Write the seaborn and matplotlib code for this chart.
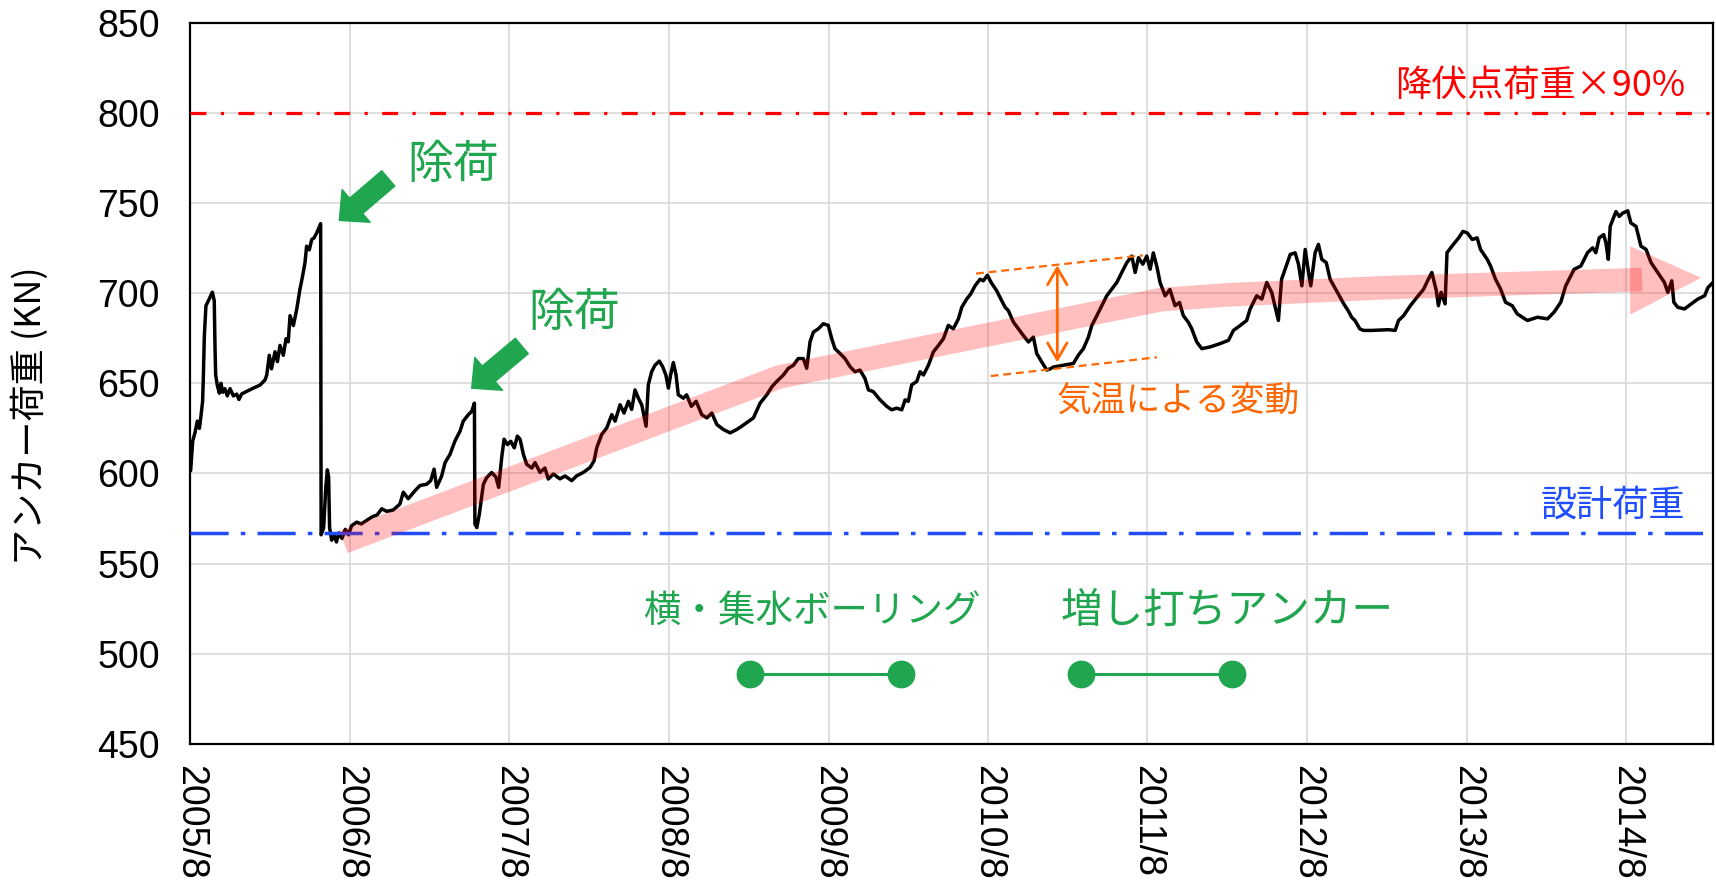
import pandas as pd
import matplotlib
matplotlib.use('Agg')
import matplotlib.pyplot as plt
import matplotlib.dates as mdates
from matplotlib.patches import Polygon
import seaborn as sns

# measured anchor load, x given as years after 2005/8
years_after_start = [
    0.001, 0.014, 0.028, 0.043, 0.056, 0.066, 0.076, 0.080, 0.087, 0.097,
    0.111, 0.127, 0.137, 0.149, 0.154, 0.158, 0.168, 0.181, 0.191, 0.202,
    0.216, 0.231, 0.248, 0.269, 0.290, 0.304, 0.320, 0.352, 0.394, 0.436,
    0.467, 0.478, 0.494, 0.508, 0.530, 0.545, 0.561, 0.582, 0.599, 0.613,
    0.624, 0.645, 0.666, 0.686, 0.703, 0.718, 0.728, 0.745, 0.760, 0.775,
    0.791, 0.804, 0.816, 0.819, 0.835, 0.848, 0.858, 0.866, 0.872, 0.885,
    0.900, 0.915, 0.930, 0.950, 0.970, 0.990, 1.010, 1.042, 1.070, 1.105,
    1.140, 1.170, 1.199, 1.230, 1.270, 1.313, 1.334, 1.365, 1.408, 1.439,
    1.480, 1.506, 1.527, 1.543, 1.574, 1.596, 1.627, 1.658, 1.690, 1.710,
    1.742, 1.763, 1.780, 1.783, 1.795, 1.810, 1.836, 1.857, 1.888, 1.915,
    1.932, 1.951, 1.966, 1.987, 2.008, 2.030, 2.049, 2.066, 2.087, 2.108,
    2.140, 2.160, 2.191, 2.222, 2.243, 2.275, 2.316, 2.348, 2.390, 2.420,
    2.463, 2.505, 2.530, 2.547, 2.578, 2.610, 2.641, 2.662, 2.693, 2.718,
    2.745, 2.766, 2.787, 2.808, 2.829, 2.856, 2.870, 2.891, 2.912, 2.939,
    2.960, 2.980, 2.996, 3.010, 3.027, 3.044, 3.058, 3.090, 3.110, 3.140,
    3.170, 3.205, 3.237, 3.268, 3.300, 3.340, 3.383, 3.425, 3.456, 3.500,
    3.529, 3.571, 3.613, 3.645, 3.675, 3.717, 3.748, 3.780, 3.810, 3.842,
    3.863, 3.884, 3.905, 3.936, 3.967, 3.998, 4.020, 4.040, 4.072, 4.103,
    4.135, 4.166, 4.197, 4.228, 4.250, 4.280, 4.323, 4.365, 4.396, 4.427,
    4.459, 4.480, 4.500, 4.521, 4.553, 4.574, 4.595, 4.626, 4.657, 4.689,
    4.720, 4.751, 4.782, 4.814, 4.835, 4.866, 4.891, 4.918, 4.950, 4.970,
    4.996, 5.020, 5.054, 5.075, 5.107, 5.127, 5.159, 5.190, 5.221, 5.253,
    5.284, 5.305, 5.336, 5.368, 5.389, 5.410, 5.472, 5.535, 5.566, 5.598,
    5.629, 5.650, 5.682, 5.713, 5.744, 5.775, 5.807, 5.838, 5.870, 5.901,
    5.922, 5.943, 5.970, 5.995, 6.016, 6.036, 6.060, 6.078, 6.110, 6.140,
    6.172, 6.200, 6.224, 6.255, 6.277, 6.308, 6.340, 6.390, 6.455, 6.507,
    6.538, 6.580, 6.621, 6.643, 6.684, 6.716, 6.747, 6.778, 6.820, 6.840,
    6.862, 6.894, 6.925, 6.946, 6.967, 6.988, 7.009, 7.023, 7.050, 7.071,
    7.092, 7.120, 7.144, 7.186, 7.230, 7.259, 7.280, 7.300, 7.330, 7.353,
    7.405, 7.460, 7.510, 7.552, 7.573, 7.605, 7.647, 7.688, 7.730, 7.760,
    7.782, 7.810, 7.823, 7.840, 7.865, 7.877, 7.908, 7.950, 7.977, 8.005,
    8.035, 8.066, 8.087, 8.129, 8.150, 8.181, 8.213, 8.244, 8.286, 8.317,
    8.381, 8.444, 8.507, 8.548, 8.590, 8.621, 8.674, 8.716, 8.758, 8.790,
    8.810, 8.831, 8.859, 8.873, 8.888, 8.900, 8.936, 8.957, 8.978, 9.010,
    9.030, 9.062, 9.093, 9.125, 9.156, 9.198, 9.240, 9.261, 9.286, 9.299,
    9.324, 9.366, 9.408, 9.450, 9.492, 9.513, 9.555,
]
anchor_load = [
    601.5, 618, 622.5, 629, 625, 632, 640, 651, 676.5, 693,
    695.5, 698.5, 700.5, 695.8, 669, 654.6, 649, 644.5, 650, 645,
    647, 643, 647, 643, 644, 641, 644, 645.5, 647.3, 649,
    651.8, 654.5, 665.5, 658, 667.5, 662, 671, 665.5, 674.7, 673,
    687.5, 682, 691, 702, 709.5, 717, 726, 724, 729.7, 730.6,
    733.3, 736, 738.5, 566, 570, 592, 602, 598, 570, 563,
    566, 562, 567, 564, 569, 566, 571, 573, 572, 574,
    576, 577, 580.4, 579, 579.7, 583, 589.6, 586, 590.5, 593.3,
    594, 596, 602.4, 592.3, 598.4, 606, 610.6, 618, 623.5, 629,
    632.6, 634.4, 639, 572, 570, 577, 594, 597.7, 600.5, 598,
    592.3, 608.8, 619, 616, 617.8, 614.2, 620.7, 619, 610.6, 605,
    603, 606, 600.6, 603, 596.9, 599.7, 597, 598.6, 596, 598.6,
    600.6, 603.3, 607, 614.3, 621.6, 625.3, 632.6, 629, 638.1, 633.5,
    640, 635.5, 646.3, 641.7, 638, 626.2, 649.1, 656.4, 660, 662.3,
    659.2, 654.6, 647.3, 654.6, 661.5, 654.6, 643.6, 641.7, 643.6, 637.2,
    640, 632.6, 630.8, 633.5, 627.1, 624.4, 622.5, 624.4, 626.2, 629,
    630.8, 639, 643.6, 648.1, 651, 654.6, 658.3, 660, 663.7, 663.7,
    658.3, 673, 678.4, 680.2, 683, 682.1, 674.7, 669.2, 666.5, 663.7,
    659.2, 656.4, 657.3, 652.7, 646.3, 645.4, 640.8, 637.2, 635.3, 636.2,
    635.3, 640.8, 640, 649.1, 651, 656.4, 654.6, 660, 667.4, 671,
    674.7, 682.1, 680.2, 685.7, 692.1, 696.7, 699.5, 704, 707.7, 706.8,
    709.9, 705.8, 701.3, 697.6, 692.1, 690.3, 683.9, 680.2, 676.5, 672.9,
    675.6, 666.5, 661.9, 657.3, 658, 659, 660, 661, 665.6, 669.2,
    675.6, 682, 687.5, 693, 698.5, 702.1, 705.9, 711.4, 716.9, 720.5,
    711.4, 719.6, 716, 720.5, 713.2, 722.3, 714, 705.9, 698.5, 702,
    693, 694.8, 687.5, 683.9, 680.2, 672.9, 669.2, 670.1, 672, 673.8,
    679.3, 682, 684.8, 691.2, 698.5, 696.7, 705.9, 700.4, 684.8, 707.7,
    713.2, 721.4, 722.3, 716, 704, 724.2, 711.4, 704, 722.3, 727,
    718.7, 716.9, 707.7, 701, 694, 690, 686.5, 684.8, 680.2, 679.3,
    679.3, 679.5, 679.7, 679.3, 684.8, 687.5, 693, 697.6, 702.1, 707.7,
    711.4, 701.3, 693, 700.4, 694, 722.4, 726, 730.6, 734.2, 733.3,
    729.7, 730.6, 724.2, 718.7, 715, 707.7, 702.2, 694.9, 693, 688.5,
    684.8, 686.6, 685.7, 689.4, 694.9, 704, 713.2, 715, 722.4, 725.1,
    722.4, 730.6, 732.4, 727.9, 718.7, 737, 745.2, 742.5, 744.3, 745.6,
    738.8, 737, 726, 724.2, 716.9, 711.4, 705.9, 700.4, 706.8, 694.9,
    692.1, 691.2, 694, 696.7, 698.5, 703.1, 706.8,
]

# trend band (years after start, kN)
trend_years = [0.96, 3.695, 6.08, 6.5, 7.46, 9.10]
trend_load = [562, 653.6, 696.3, 699, 702.9, 707.5]

yield_load_90 = 800
design_load = 567

boring_period = ['2009-02-01', '2010-01-15']
extra_anchor_period = ['2011-03-01', '2012-02-10']
period_level = 489

tick_years = list(range(2005, 2015))
tick_labels = ['{}/8'.format(y) for y in tick_years]

start = pd.Timestamp('2005-08-01')


def at(years):
    return start + pd.Timedelta(days=years * 365.25)


green = '#21a650'
orange = '#ff6600'
blue = '#1f4dff'
cjk = ['Noto Sans CJK JP', 'DejaVu Sans']

sns.set_theme(style='whitegrid')
plt.rcParams['font.family'] = ['Liberation Sans Narrow', 'Liberation Sans', 'Noto Sans CJK JP', 'DejaVu Sans']

fig, ax = plt.subplots(figsize=(17.16, 8.83), dpi=100)
fig.subplots_adjust(left=0.111, right=0.9983, top=0.9745, bottom=0.1574)

df = pd.DataFrame({'date': [at(t) for t in years_after_start], 'load': anchor_load})
sns.lineplot(data=df, x='date', y='load', ax=ax, color='black', linewidth=2.5,
             estimator=None, sort=False, zorder=3)

ax.axhline(yield_load_90, color='red', linewidth=2.3, dashes=(5, 4.5, 1, 4.5), zorder=4)
ax.axhline(design_load, color=blue, linewidth=2.5, dashes=(11, 3.5, 1.3, 3.5), zorder=4)

# pink trend arrow
ax.plot([at(t) for t in trend_years], trend_load, color='red', alpha=0.25,
        linewidth=17, solid_capstyle='butt', solid_joinstyle='round', zorder=5)
head = [(mdates.date2num(at(9.025)), 726), (mdates.date2num(at(9.025)), 688),
        (mdates.date2num(at(9.47)), 708.5)]
ax.add_patch(Polygon(head, closed=True, facecolor='red', alpha=0.25, edgecolor='none', zorder=5))

# unloading arrows
arrow_style = 'simple,head_length=1.6,head_width=3.1,tail_width=1.45'
ax.annotate('', xy=(at(0.933), 740.3), xytext=(at(1.24), 763.6),
            arrowprops=dict(arrowstyle=arrow_style, color=green, mutation_scale=10, shrinkA=0, shrinkB=0),
            zorder=6)
ax.annotate('', xy=(at(1.763), 647.3), xytext=(at(2.077), 670.7),
            arrowprops=dict(arrowstyle=arrow_style, color=green, mutation_scale=10, shrinkA=0, shrinkB=0),
            zorder=6)
ax.text(at(1.646), 771.4, '除荷', color=green, fontsize=33, family=cjk, ha='center', va='center')
ax.text(at(2.404), 689, '除荷', color=green, fontsize=33, family=cjk, ha='center', va='center')

# temperature band
ax.plot([at(4.925), at(5.97)], [710.8, 720.9], color=orange, linewidth=1.6, dashes=(3.5, 2.2), zorder=6)
ax.plot([at(5.017), at(6.058)], [654, 664.4], color=orange, linewidth=1.6, dashes=(3.5, 2.2), zorder=6)
ax.annotate('', xy=(at(5.434), 715.4), xytext=(at(5.434), 661.6),
            arrowprops=dict(arrowstyle='<->,head_length=1.2,head_width=0.7', color=orange,
                            linewidth=2, mutation_scale=10, shrinkA=0, shrinkB=0), zorder=6)
ax.text(at(5.43), 640, '気温による変動', color=orange, fontsize=25, family=cjk, ha='left', va='center')

# works periods
for period in [boring_period, extra_anchor_period]:
    ax.plot(pd.to_datetime(period), [period_level, period_level], color=green, linewidth=2.2,
            marker='o', markersize=19, zorder=6)
ax.text(at(3.903), 523.5, '横・集水ボーリング', color=green, fontsize=27, family=cjk, ha='center', va='center')
ax.text(at(6.498), 523.5, '増し打ちアンカー', color=green, fontsize=30, family=cjk, ha='center', va='center')

ax.text(at(9.37), 815, '降伏点荷重×90%', color='red', fontsize=26, family=cjk, ha='right', va='center')
ax.text(at(9.37), 582, '設計荷重', color=blue, fontsize=26, family=cjk, ha='right', va='center')

ax.set_xlim(start, at(9.545))
ax.set_ylim(450, 850)
ax.set_yticks(range(450, 851, 50))
ax.set_xticks([pd.Timestamp('{}-08-01'.format(y)) for y in tick_years])
ax.set_xticklabels(tick_labels, rotation=-90, ha='center', va='top')
ax.tick_params(axis='both', length=0, labelsize=27, colors='black')
ax.tick_params(axis='y', pad=22)
ax.tick_params(axis='x', pad=15)
ax.set_xlabel('')
ax.set_ylabel('アンカー荷重 (KN)', fontsize=26, family=cjk, color='black')
ax.yaxis.set_label_coords(-0.093, 0.455)

ax.grid(True, color='#d9d9d9', linewidth=1.2)
for spine in ax.spines.values():
    spine.set_color('black')
    spine.set_linewidth(1.6)

fig.savefig('out.png', dpi=100)
